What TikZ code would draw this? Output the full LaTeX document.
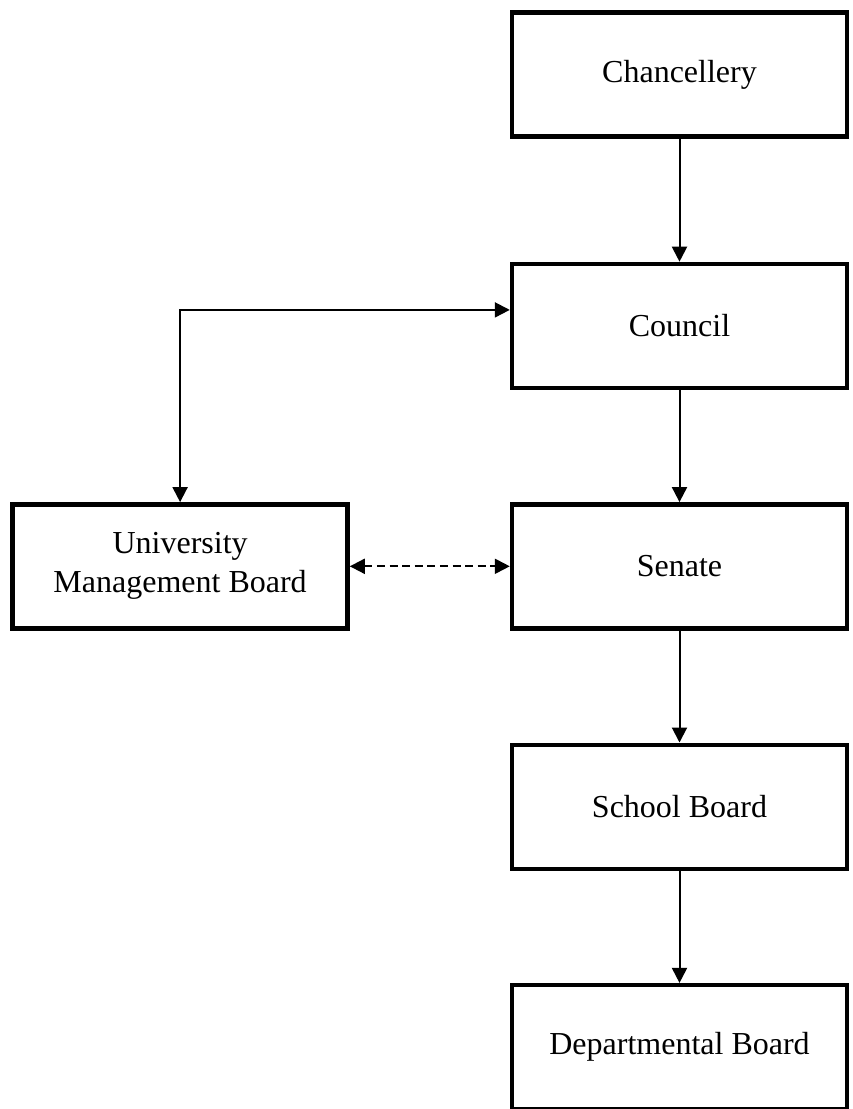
\documentclass[tikz,border=0pt]{standalone}
\usepackage{fontspec}
\setmainfont{Liberation Serif}
\usetikzlibrary{positioning, arrows.meta}

\begin{document}
\begin{tikzpicture}[
    node distance=56pt,
    box/.style={draw, line width=2.2pt, minimum width=167.5pt, minimum height=62pt,
                align=center, font=\fontsize{16}{19.5}\selectfont},
    link/.style={line width=1pt, -{Triangle[length=7.5pt,width=7.5pt]}}
  ]
  \useasboundingbox (0,0) rectangle (426pt,-554.5pt);

  % organos
  \node [box] (chan) at (339.75pt,-37.25pt) {Chancellery};
  \node [box] (council) [below=61.5pt of chan] {Council};
  \node [box] (senate) [below=of council] {Senate};
  \node [box] (umb) [left=80pt of senate] {University\\Management Board};
  \node [box] (school) [below=of senate] {School Board};
  \node [box] (dept) [below=of school] {Departmental Board};

  % relaciones
  \draw [link] (chan) -- (council);
  \draw [link] (council) -- (senate);
  \draw [link] (senate) -- (school);
  \draw [link] (school) -- (dept);
  \draw [link, {Triangle[length=7.5pt,width=7.5pt]}-{Triangle[length=7.5pt,width=7.5pt]}]
    (umb.north) |- ([yshift=8pt]council.west);
  \draw [link, {Triangle[length=7.5pt,width=7.5pt]}-{Triangle[length=7.5pt,width=7.5pt]},
         dash pattern=on 4pt off 2.3pt] (umb) -- (senate);
\end{tikzpicture}
\end{document}
